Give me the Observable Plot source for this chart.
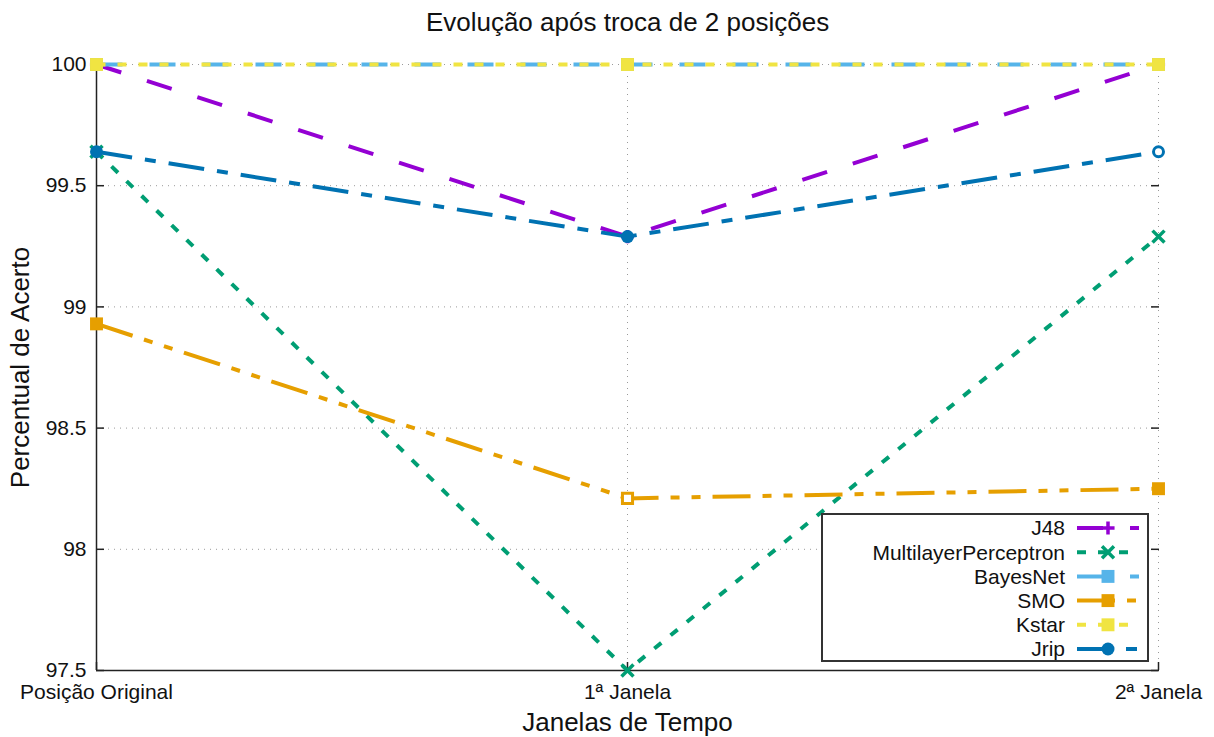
<!DOCTYPE html>
<html>
<head>
<meta charset="utf-8">
<script src="https://cdn.jsdelivr.net/npm/d3@7"></script>
<script src="https://cdn.jsdelivr.net/npm/@observablehq/plot@0.6"></script>
<style>
  html, body { margin: 0; padding: 0; background: #fff; }
  #chart svg { display: block; }
</style>
</head>
<body>
<div id="chart"></div>
<script>
// Accuracy (%) of each classifier per time window
const windows = ["Posição Original", "1ª Janela", "2ª Janela"];
const seriesNames = ["J48", "MultilayerPerceptron", "BayesNet", "SMO", "Kstar", "Jrip"];
const j48 = [100, 99.29, 100];
const mlp = [99.64, 97.5, 99.29];
const bayesNet = [100, 100, 100];
const smo = [98.93, 98.21, 98.25];
const kstar = [100, 100, 100];
const jrip = [99.64, 99.29, 99.64];
const yTicks = [97.5, 98, 98.5, 99, 99.5, 100];
const yTickLabels = ["97.5", "98", "98.5", "99", "99.5", "100"];
const chartTitle = "Evolução após troca de 2 posições";
const xTitle = "Janelas de Tempo";
const yTitle = "Percentual de Acerto";

const valuesBySeries = {
  J48: j48,
  MultilayerPerceptron: mlp,
  BayesNet: bayesNet,
  SMO: smo,
  Kstar: kstar,
  Jrip: jrip
};

// Line colour, dash pattern and point symbol per classifier (gnuplot-like)
const styles = {
  J48: {color: "#9400d3", dash: "26,27", symbol: "plus"},
  MultilayerPerceptron: {color: "#009e73", dash: "9,12", symbol: "times"},
  BayesNet: {color: "#56b4e9", dash: "26,27", symbol: "square"},
  SMO: {color: "#e69f00", dash: "38,12,9,12,9,12", symbol: "square", hollow: [false, true, false]},
  Kstar: {color: "#f0e442", dash: "9,12", symbol: "square"},
  Jrip: {color: "#0072b2", dash: "36,13,11,13", symbol: "circle", hollow: [false, false, true]}
};

// dot radius per symbol (Plot/d3 symbol area = PI * r^2)
const symbolRadius = {plus: 4.3, times: 5.5, square: 7.3, circle: 6.5};
const hollowRadius = {square: 5.7, circle: 5};

const width = 1214, height = 737;
const margin = {top: 64, right: 56, bottom: 67, left: 96};
const font = '"Liberation Sans", Arial, Helvetica, sans-serif';
const tickFont = 21, titleFont = 26;

const seriesMarks = seriesNames.flatMap(name => {
  const s = styles[name];
  const rows = windows.map((w, i) => ({
    series: name,
    window: w,
    value: valuesBySeries[name][i],
    hollow: s.hollow ? s.hollow[i] : false
  }));
  const line = Plot.line(rows, {
    x: "window", y: "value",
    stroke: s.color, strokeWidth: 4,
    strokeDasharray: s.dash, strokeLinecap: "butt", strokeLinejoin: "miter"
  });
  if (s.symbol === "plus" || s.symbol === "times") {
    return [line, Plot.dot(rows, {x: "window", y: "value", symbol: s.symbol, r: symbolRadius[s.symbol], stroke: s.color, strokeWidth: 3.5})];
  }
  const filled = rows.filter(d => !d.hollow);
  const hollow = rows.filter(d => d.hollow);
  return [
    line,
    Plot.dot(filled, {x: "window", y: "value", symbol: s.symbol, r: symbolRadius[s.symbol], fill: s.color, stroke: "none"}),
    Plot.dot(hollow, {x: "window", y: "value", symbol: s.symbol, r: hollowRadius[s.symbol], fill: "white", stroke: s.color, strokeWidth: 3})
  ];
});

const gridStyle = {stroke: "#9a9a9a", strokeOpacity: 1, strokeWidth: 1, strokeDasharray: "1,5"};

const chart = Plot.plot({
  width, height,
  marginTop: margin.top, marginRight: margin.right,
  marginBottom: margin.bottom, marginLeft: margin.left,
  style: {fontFamily: font, background: "#fff", color: "#111"},
  x: {type: "point", domain: windows, padding: 0, axis: null},
  y: {domain: [97.5, 100], axis: null},
  marks: [
    // dotted grid
    Plot.gridY(yTicks, gridStyle),
    Plot.gridX(windows, gridStyle),
    // left and bottom border
    Plot.ruleX([windows[0]], {stroke: "#222", strokeWidth: 1.5}),
    Plot.ruleY([97.5], {stroke: "#222", strokeWidth: 1.5}),
    // inward tick marks (left, right mirror, bottom)
    Plot.axisY(yTicks, {anchor: "left", tickSize: 8, dx: 8, fill: "none", stroke: "#222", strokeWidth: 1.5, label: null}),
    Plot.axisY(yTicks, {anchor: "right", tickSize: 8, dx: -8, fill: "none", stroke: "#222", strokeWidth: 1.5, label: null}),
    Plot.axisX(windows, {anchor: "bottom", tickSize: 8, dy: -8, fill: "none", stroke: "#222", strokeWidth: 1.5, label: null}),
    // tick labels
    Plot.axisY(yTicks, {anchor: "left", tickSize: 0, tickPadding: 10, fontSize: tickFont,
      tickFormat: d => yTickLabels[yTicks.indexOf(d)], label: null}),
    Plot.axisX(windows, {anchor: "bottom", tickSize: 0, tickPadding: 14, fontSize: tickFont, label: null}),
    // series
    ...seriesMarks,
    // titles
    Plot.text([chartTitle], {frameAnchor: "top", dy: -42, lineAnchor: "middle", textAnchor: "middle", fontSize: titleFont, fill: "#111"}),
    Plot.text([xTitle], {frameAnchor: "bottom", dy: 52, lineAnchor: "middle", textAnchor: "middle", fontSize: titleFont, fill: "#111"}),
    Plot.text([yTitle], {frameAnchor: "left", dx: -76, rotate: -90, lineAnchor: "middle", textAnchor: "middle", fontSize: titleFont, fill: "#111"})
  ]
});

document.getElementById("chart").append(chart);

// Key box in the lower-right corner of the plot frame
const frameRight = width - margin.right;
const frameBottom = height - margin.bottom;
const svg = d3.select(chart);
const key = svg.append("g").attr("font-family", font).attr("font-size", tickFont);
const box = {x1: frameRight - 336, x2: frameRight - 10, y1: frameBottom - 156, y2: frameBottom - 9};
key.append("rect")
  .attr("x", box.x1).attr("y", box.y1)
  .attr("width", box.x2 - box.x1).attr("height", box.y2 - box.y1)
  .attr("fill", "#fff").attr("stroke", "#333").attr("stroke-width", 2);

const symbolTypes = {plus: d3.symbolPlus, times: d3.symbolTimes, square: d3.symbolSquare, circle: d3.symbolCircle};
const rowStep = 24.2;
const textRight = box.x1 + 243;
const sampleStart = box.x1 + 255, sampleEnd = box.x1 + 317, sampleMid = box.x1 + 286;

seriesNames.forEach((name, i) => {
  const s = styles[name];
  const cy = box.y1 + 14 + i * rowStep;
  key.append("text")
    .attr("x", textRight).attr("y", cy).attr("dy", "0.35em")
    .attr("text-anchor", "end").attr("fill", "#111")
    .text(name);
  key.append("line")
    .attr("x1", sampleStart).attr("x2", sampleEnd)
    .attr("y1", cy).attr("y2", cy)
    .attr("stroke", s.color).attr("stroke-width", 4)
    .attr("stroke-dasharray", s.dash);
  const stroked = s.symbol === "plus" || s.symbol === "times";
  const r = symbolRadius[s.symbol];
  key.append("path")
    .attr("transform", `translate(${sampleMid},${cy})`)
    .attr("d", d3.symbol(symbolTypes[s.symbol], Math.PI * r * r)())
    .attr("fill", stroked ? "none" : s.color)
    .attr("stroke", stroked ? s.color : "none")
    .attr("stroke-width", stroked ? 3.5 : 0);
});
</script>
</body>
</html>
